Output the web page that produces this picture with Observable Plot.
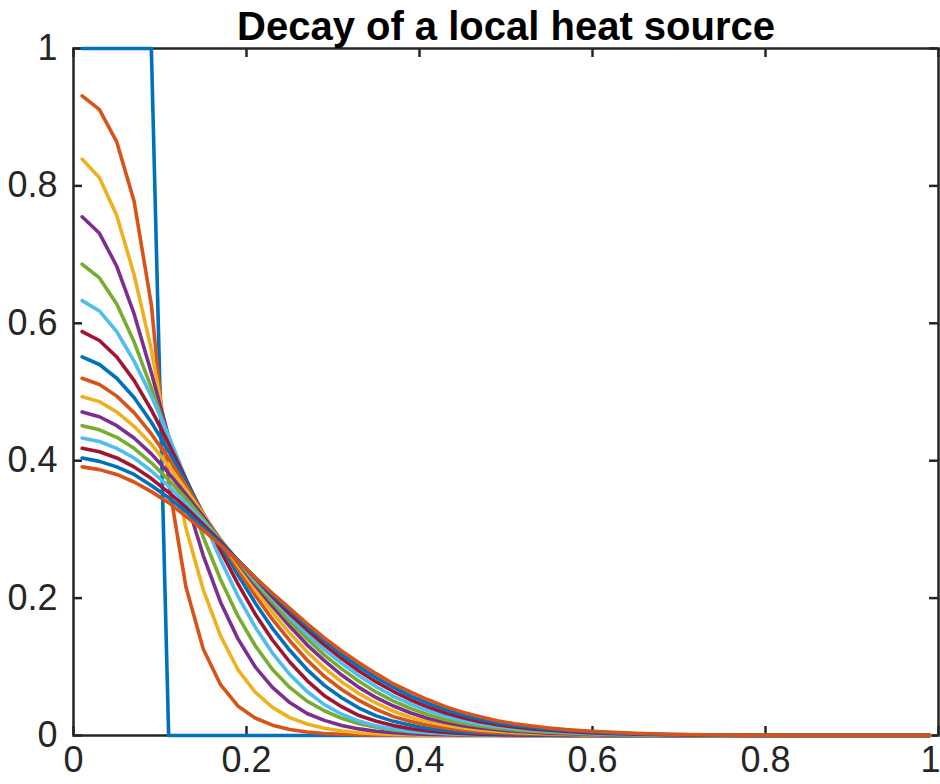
<!DOCTYPE html>
<html>
<head>
<meta charset="utf-8">
<script src="https://cdn.jsdelivr.net/npm/d3@7"></script>
<script src="https://cdn.jsdelivr.net/npm/@observablehq/plot@0.6"></script>
<style>
  html, body { margin: 0; padding: 0; background: #ffffff; }
  #chart { width: 940px; height: 784px; overflow: hidden; }
</style>
</head>
<body>
<div id="chart"></div>
<script>
// ---------------- data ----------------
const title = "Decay of a local heat source";

const x = [
  0.01,0.03,0.05,0.07,0.09,0.11,0.13,0.15,0.17,0.19,
  0.21,0.23,0.25,0.27,0.29,0.31,0.33,0.35,0.37,0.39,
  0.41,0.43,0.45,0.47,0.49,0.51,0.53,0.55,0.57,0.59,
  0.61,0.63,0.65,0.67,0.69,0.71,0.73,0.75,0.77,0.79,
  0.81,0.83,0.85,0.87,0.89,0.91,0.93,0.95,0.97,0.99
];

const u0 = [
  1,1,1,1,1,0,0,0,0,0,
  0,0,0,0,0,0,0,0,0,0,
  0,0,0,0,0,0,0,0,0,0,
  0,0,0,0,0,0,0,0,0,0,
  0,0,0,0,0,0,0,0,0,0
];
const u1 = [
  0.931,0.911,0.864,0.778,0.627,0.368,0.216,0.126,0.074,0.043,
  0.0255,0.015,0.0088,0.0051,0.003,0.0018,0.001,0.0006,0.0004,0.0002,
  0.0001,0,0,0,0,0,0,0,0,0,
  0,0,0,0,0,0,0,0,0,0,
  0,0,0,0,0,0,0,0,0,0
];
const u2 = [
  0.839,0.812,0.757,0.671,0.562,0.42,0.302,0.212,0.145,0.096,
  0.063,0.041,0.026,0.0167,0.0105,0.0065,0.0041,0.0026,0.0016,0.001,
  0.0006,0.0004,0.0002,0.0001,0,0,0,0,0,0,
  0,0,0,0,0,0,0,0,0,0,
  0,0,0,0,0,0,0,0,0,0
];
const u3 = [
  0.755,0.731,0.683,0.614,0.528,0.435,0.344,0.262,0.194,0.141,
  0.1,0.07,0.048,0.032,0.022,0.0145,0.0096,0.0063,0.0041,0.0027,
  0.0017,0.0011,0.0007,0.0004,0.0003,0.0002,0.0001,0,0,0,
  0,0,0,0,0,0,0,0,0,0,
  0,0,0,0,0,0,0,0,0,0
];
const u4 = [
  0.686,0.666,0.628,0.573,0.506,0.433,0.359,0.289,0.227,0.174,
  0.131,0.096,0.07,0.05,0.036,0.025,0.017,0.012,0.008,0.0055,
  0.0037,0.0025,0.0016,0.0011,0.0007,0.0005,0.0003,0.0002,0.0001,0,
  0,0,0,0,0,0,0,0,0,0,
  0,0,0,0,0,0,0,0,0,0
];
const u5 = [
  0.633,0.618,0.588,0.545,0.494,0.436,0.374,0.314,0.256,0.203,
  0.158,0.12,0.089,0.064,0.045,0.031,0.021,0.014,0.0095,0.0064,
  0.0043,0.0029,0.002,0.0013,0.0009,0.0006,0.0004,0.0002,0.0001,0,
  0,0,0,0,0,0,0,0,0,0,
  0,0,0,0,0,0,0,0,0,0
];
const u6 = [
  0.588,0.575,0.551,0.517,0.474,0.425,0.373,0.321,0.269,0.221,
  0.177,0.139,0.107,0.08,0.058,0.042,0.029,0.0207,0.0144,0.0098,
  0.0066,0.0045,0.003,0.002,0.0013,0.0008,0.0005,0.0003,0.0002,0.0001,
  0,0,0,0,0,0,0,0,0,0,
  0,0,0,0,0,0,0,0,0,0
];
const u7 = [
  0.551,0.54,0.52,0.492,0.456,0.414,0.37,0.323,0.278,0.234,
  0.193,0.156,0.124,0.096,0.073,0.055,0.04,0.0286,0.0206,0.0148,
  0.0103,0.0073,0.0052,0.0036,0.0026,0.0018,0.0012,0.0008,0.0005,0.0003,
  0.0002,0.0001,0,0,0,0,0,0,0,0,
  0,0,0,0,0,0,0,0,0,0
];
const u8 = [
  0.52,0.511,0.494,0.47,0.439,0.403,0.364,0.323,0.282,0.242,
  0.204,0.169,0.138,0.11,0.086,0.067,0.051,0.038,0.0275,0.0204,
  0.0149,0.0108,0.0079,0.0057,0.0042,0.003,0.0022,0.0015,0.001,0.0007,
  0.0004,0.0003,0.0002,0.0001,0,0,0,0,0,0,
  0,0,0,0,0,0,0,0,0,0
];
const u9 = [
  0.493,0.486,0.471,0.45,0.424,0.392,0.358,0.322,0.285,0.248,
  0.213,0.179,0.149,0.122,0.098,0.078,0.061,0.047,0.0353,0.0263,
  0.0198,0.0148,0.011,0.0082,0.0061,0.0046,0.0034,0.0025,0.0018,0.0012,
  0.0008,0.0005,0.0003,0.0002,0.0001,0,0,0,0,0,
  0,0,0,0,0,0,0,0,0,0
];
const u10 = [
  0.471,0.464,0.451,0.433,0.41,0.382,0.351,0.319,0.285,0.252,
  0.219,0.188,0.159,0.132,0.109,0.088,0.07,0.055,0.0429,0.0328,
  0.0247,0.019,0.0143,0.0108,0.0083,0.0062,0.0047,0.0035,0.0025,0.0018,
  0.0012,0.0008,0.0005,0.0003,0.0002,0.0001,0,0,0,0,
  0,0,0,0,0,0,0,0,0,0
];
const u11 = [
  0.451,0.445,0.434,0.418,0.397,0.372,0.345,0.315,0.285,0.254,
  0.223,0.194,0.166,0.141,0.117,0.097,0.079,0.063,0.05,0.0393,
  0.0303,0.023,0.0179,0.0138,0.0105,0.0082,0.0064,0.0049,0.0037,0.0027,
  0.0019,0.0013,0.0009,0.0006,0.0004,0.0002,0.0001,0,0,0,
  0,0,0,0,0,0,0,0,0,0
];
const u12 = [
  0.433,0.428,0.418,0.404,0.385,0.363,0.338,0.311,0.283,0.255,
  0.226,0.199,0.172,0.148,0.125,0.105,0.087,0.071,0.057,0.0456,
  0.0359,0.0279,0.0215,0.0168,0.0132,0.0102,0.0079,0.0061,0.0047,0.0035,
  0.0026,0.0019,0.0013,0.0009,0.0006,0.0004,0.0003,0.0002,0.0001,0,
  0,0,0,0,0,0,0,0,0,0
];
const u13 = [
  0.418,0.413,0.404,0.391,0.374,0.354,0.332,0.307,0.282,0.255,
  0.229,0.202,0.177,0.154,0.132,0.112,0.094,0.078,0.064,0.0517,
  0.0414,0.0328,0.0257,0.0199,0.0158,0.0124,0.0096,0.0077,0.006,0.0046,
  0.0035,0.0026,0.0019,0.0014,0.001,0.0007,0.0005,0.0003,0.0002,0.0001,
  0,0,0,0,0,0,0,0,0,0
];
const u14 = [
  0.404,0.399,0.391,0.38,0.364,0.346,0.326,0.303,0.279,0.255,
  0.23,0.205,0.182,0.159,0.138,0.118,0.1,0.084,0.07,0.0574,
  0.0468,0.0376,0.03,0.0236,0.0184,0.0147,0.0117,0.0092,0.0074,0.0058,
  0.0045,0.0035,0.0026,0.0019,0.0014,0.001,0.0007,0.0005,0.0003,0.0002,
  0.0001,0,0,0,0,0,0,0,0,0
];
const u15 = [
  0.391,0.387,0.38,0.369,0.355,0.339,0.319,0.299,0.277,0.254,
  0.23,0.207,0.185,0.163,0.142,0.123,0.106,0.09,0.075,0.063,
  0.052,0.042,0.034,0.0273,0.0216,0.017,0.0137,0.0109,0.0086,0.007,
  0.0055,0.0043,0.0033,0.0025,0.0019,0.0014,0.001,0.0007,0.0005,0.0003,
  0.0002,0.0001,0,0,0,0,0,0,0,0
];

const seriesNames = ["t0","t1","t2","t3","t4","t5","t6","t7","t8","t9","t10","t11","t12","t13","t14","t15"];
const seriesValues = [u0,u1,u2,u3,u4,u5,u6,u7,u8,u9,u10,u11,u12,u13,u14,u15];
const palette = ["#0072BD","#D95319","#EDB120","#7E2F8E","#77AC30","#4DBEEE","#A2142F"];

const xTicks = [0, 0.2, 0.4, 0.6, 0.8, 1];
const xTickLabels = ["0", "0.2", "0.4", "0.6", "0.8", "1"];
const yTicks = [0, 0.2, 0.4, 0.6, 0.8, 1];
const yTickLabels = ["0", "0.2", "0.4", "0.6", "0.8", "1"];

// ---------------- build table ----------------
const rows = seriesValues.flatMap((vals, s) =>
  vals.map((v, i) => ({series: seriesNames[s], x: x[i], y: v}))
);

const W = 940, H = 784;
const mL = 73, mR = 2, mT = 48, mB = 49;
const plotW = W - mL - mR, plotH = H - mT - mB;
const axisColor = "#262626";
const tickLen = 9;
const labelSize = 36;

// the last x label sits at the very right edge; keep it inside the picture
const xInner = xTicks.slice(0, -1);
const xLast = xTicks.slice(-1);

try {
  const chart = Plot.plot({
    width: W,
    height: H,
    marginLeft: mL,
    marginRight: mR,
    marginTop: mT,
    marginBottom: mB,
    style: {fontFamily: "'Liberation Sans', Arial, sans-serif", background: "#ffffff", color: axisColor, overflow: "visible"},
    x: {domain: [0, 1]},
    y: {domain: [0, 1]},
    color: {type: "ordinal", domain: seriesNames, range: seriesNames.map((_, i) => palette[i % palette.length])},
    marks: [
      Plot.frame({stroke: axisColor, strokeWidth: 2.5}),
      Plot.tickX(xTicks, {x: d => d, insetTop: plotH - tickLen, stroke: axisColor, strokeWidth: 2.5}),
      Plot.tickX(xTicks, {x: d => d, insetBottom: plotH - tickLen, stroke: axisColor, strokeWidth: 2.5}),
      Plot.tickY(yTicks, {y: d => d, insetLeft: plotW - tickLen, stroke: axisColor, strokeWidth: 2.5}),
      Plot.tickY(yTicks, {y: d => d, insetRight: plotW - tickLen, stroke: axisColor, strokeWidth: 2.5}),
      Plot.line(rows, {x: "x", y: "y", z: "series", stroke: "series", strokeWidth: 3.6, strokeLinejoin: "round"}),
      Plot.axisX({ticks: xInner, tickFormat: d => xTickLabels[xTicks.indexOf(d)], tickSize: 0, tickPadding: 11, fontSize: labelSize, label: null}),
      Plot.text(xLast, {x: d => d, text: d => xTickLabels[xTicks.indexOf(d)], frameAnchor: "bottom", lineAnchor: "top", dy: 11, dx: -8, fontSize: labelSize, fill: axisColor}),
      Plot.axisY({ticks: yTicks, tickFormat: d => yTickLabels[yTicks.indexOf(d)], tickSize: 0, tickPadding: 16, fontSize: labelSize, label: null}),
      Plot.text([title], {text: d => d, frameAnchor: "top", lineAnchor: "middle", dy: -21, fontSize: 40, fontWeight: "bold", fill: "#000000"})
    ]
  });
  document.getElementById("chart").appendChild(chart);
} catch (e) {
  document.getElementById("chart").textContent = "Error: " + e.message;
}
</script>
</body>
</html>
